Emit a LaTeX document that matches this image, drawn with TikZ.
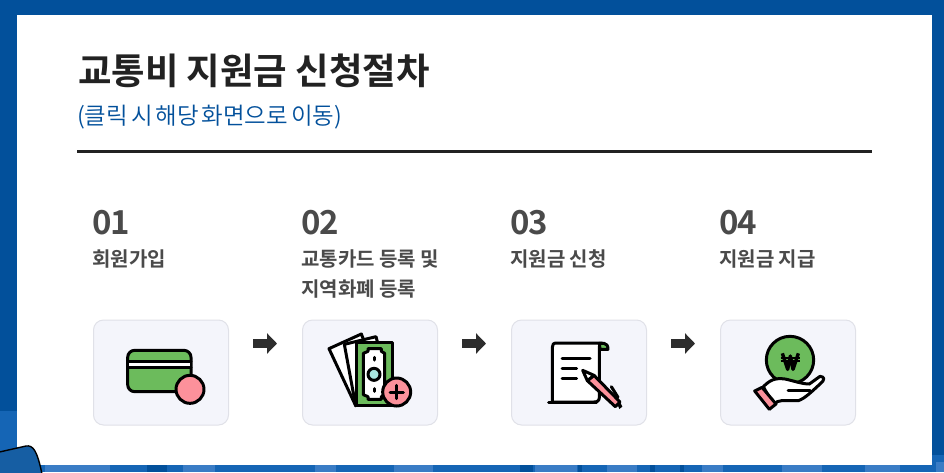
\documentclass[tikz,border=0pt]{standalone}
\usepackage{fontspec}
\setmainfont{Noto Sans CJK KR}
\newfontfamily\krmed[WordSpace=0.7]{Noto Sans CJK KR Bold}
\newfontfamily\krnum[LetterSpace=-3]{Noto Sans CJK KR Bold}
\newfontfamily\krbold{Noto Sans CJK KR Bold}
\newfontfamily\krlight[WordSpace=0.55]{Noto Sans CJK KR DemiLight}
\usetikzlibrary{arrows.meta}
\definecolor{bgdark}{HTML}{02509B}
\definecolor{bgmid}{HTML}{1565B5}
\definecolor{bglight}{HTML}{3A7CC5}
\definecolor{ink}{HTML}{222222}
\definecolor{steptext}{HTML}{4A4A4A}
\definecolor{boxfill}{HTML}{F4F5FB}
\definecolor{boxline}{HTML}{E0E1E8}
\definecolor{icongreen}{HTML}{6CBB5C}
\definecolor{iconpink}{HTML}{FC919B}
\definecolor{iconaqua}{HTML}{A8E6E0}
\tikzset{
  x=1pt,y=-1pt,
  stepbox/.style={draw=boxline,fill=boxfill,line width=1pt,rounded corners=10pt,minimum width=135pt,minimum height=105pt,inner sep=0pt,anchor=north west},
  stepnum/.style={anchor=base west,inner sep=0pt,text=steptext,font=\krnum\fontsize{33}{33}\selectfont},
  steplabel/.style={anchor=base west,inner sep=0pt,text=steptext,font=\krmed\fontsize{20}{20}\selectfont},
  flowarrow/.style={draw=ink!95,line width=9.5pt,-{Triangle[length=10pt,width=20pt]}},
  icon/.style={draw=black,line width=3pt,line join=round,line cap=round},
  zoomed/.style={x=1/3*1pt,y=-1/3*1pt},
}
\begin{document}
\begin{tikzpicture}
\useasboundingbox (0,0) rectangle (944,472);
% background
\fill[bgdark] (0,0) rectangle (944,472);
\fill[bgmid] (0,411) rectangle (17,472);
\fill[bgmid] (0,465) rectangle (944,472);
\fill[bgmid] (932,455) rectangle (944,472);
\foreach \a/\b in {45/110,183/215,315/336,394/433,535/577,607/637,702/723,782/822,865/900}
  \fill[bglight] (\a,465) rectangle (\b,472);
\foreach \a/\b in {147/167,520/533,578/582,650/655,680/684}
  \fill[bgdark] (\a,465) rectangle (\b,472);
\fill[bglight] (936,462) rectangle (944,472);
% panel
\fill[white] (17,15) rectangle (932,465);
% corner shape over the panel
\draw[black,line width=1.4pt,fill=bgdark!92!white] (-5,453) -- (26,446) .. controls (33,445) and (37,450) .. (42,474) -- (-5,474) -- cycle;
% heading
\node[anchor=base west,inner sep=0pt,text=ink,font=\krbold\fontsize{36.4}{36.4}\selectfont] (title) at (78,84) {교통비 지원금 신청절차};
\node[anchor=base west,inner sep=0pt,text=bgdark,font=\krlight\fontsize{23.5}{23.5}\selectfont] (subtitle) at (77,124) {(클릭 시 해당 화면으로 이동)};
\coordinate (ruleL) at (77,151.5);
\coordinate (ruleR) at (872,151.5);
\draw[ink,line width=3pt] (ruleL) -- (ruleR);
% steps
\node[stepnum] (n1) at (92,234.5) {01};
\node[stepnum] (n2) at (301,234.5) {02};
\node[stepnum] (n3) at (510,234.5) {03};
\node[stepnum] (n4) at (719,234.5) {04};
\node[steplabel] (l1) at (92,266) {회원가입};
\node[steplabel] (l2a) at (301,266) {교통카드 등록 및};
\node[steplabel] (l2b) at (301,296) {지역화폐 등록};
\node[steplabel] (l3) at (510,266) {지원금 신청};
\node[steplabel] (l4) at (719,266) {지원금 지급};
\node[stepbox] (b1) at (93,319.5) {};
\node[stepbox] (b2) at (302,319.5) {};
\node[stepbox] (b3) at (511,319.5) {};
\node[stepbox] (b4) at (720,319.5) {};
% arrows
\coordinate (a1s) at (253,343.5); \coordinate (a1e) at (277,343.5);
\coordinate (a2s) at (462,343.5); \coordinate (a2e) at (486,343.5);
\coordinate (a3s) at (671,343.5); \coordinate (a3e) at (695,343.5);
\draw[flowarrow] (a1s) -- (a1e);
\draw[flowarrow] (a2s) -- (a2e);
\draw[flowarrow] (a3s) -- (a3e);
% icon 1: card
\begin{scope}[shift={(80,310)},zoomed]
  \draw[icon,fill=icongreen,rounded corners=7pt] (143,121) rectangle (333,245);
  \fill[white] (146,155) rectangle (330,170);
  \draw[icon] (143,153) -- (333,153) (143,172) -- (333,172);
  \draw[icon,fill=iconpink] (330,238) circle [radius=42];
\end{scope}
% icon 2: money
\begin{scope}[shift={(290,310)},zoomed]
  \draw[icon,fill=white] (117,116) -- (214,72) -- (260,190) -- (197,287) -- cycle;
  \draw[icon,fill=white] (163,103) -- (258,80) -- (290,200) -- (197,287) -- cycle;
  \draw[icon,fill=icongreen] (200,98) rectangle (308,287);
  \draw[icon,fill=white] (234,116) -- (274,116) -- (274,124) -- (284,130) -- (284,254) -- (274,260) -- (274,268) -- (234,268) -- (234,260) -- (220,254) -- (220,130) -- (234,124) -- cycle;
  \draw[icon,fill=iconaqua] (252,193) circle [radius=18];
  \draw[icon] (252,142) -- (252,150) (252,236) -- (252,244);
  \draw[icon,fill=iconpink] (320,246) circle [radius=42];
  \draw[icon] (320,226) -- (320,266) (300,246) -- (340,246);
\end{scope}
% icon 3: document and pen
\begin{scope}[shift={(500,310)},zoomed]
  \draw[icon,fill=white] (157,276) -- (157,112) .. controls (157,103) and (160,99) .. (170,99) -- (306,99) .. controls (298,100) and (298,106) .. (298,118) -- (298,262) .. controls (298,272) and (292,276) .. (282,276) -- cycle;
  \draw[icon] (146,276) -- (290,276);
  \draw[icon,fill=icongreen] (298,100) -- (312,100) .. controls (320,100) and (324,108) .. (324,118) -- (300,118) -- cycle;
  \draw[icon] (186,145) -- (270,145) (186,175) -- (230,175) (186,204) -- (230,204);
  \draw[icon,fill=iconpink] (262,212) -- (282,196) -- (360,276) -- (346,290) -- cycle;
  \draw[icon,fill=white] (248,181) -- (282,196) -- (262,212) -- cycle;
  \draw[icon] (334,230) -- (354,262);
  \fill[black] (352,282) -- (360,276) -- (367,290) -- (358,297) -- cycle;
\end{scope}
% icon 4: coin and hand
\begin{scope}[shift={(710,310)},zoomed]
  \draw[icon,fill=icongreen] (240,150) circle [radius=71];
  \draw[line width=3.4pt,black,line join=round] (217,130) -- (233,178) -- (241,138) -- (249,178) -- (265,130);
  \draw[line width=2.2pt,black] (212,144) -- (270,144) (212,154) -- (270,154);
  \draw[icon,fill=white] (160,230) .. controls (180,210) and (195,203) .. (225,207) .. controls (250,212) and (275,222) .. (298,222) -- (330,199) .. controls (345,200) and (345,210) .. (330,222) .. controls (305,245) and (285,265) .. (265,272) -- (215,272) .. controls (205,272) and (200,275) .. (190,285) -- cycle;
  \draw[icon] (234,241) -- (300,241);
  \draw[icon,fill=iconpink] (134,243) -- (156,232) -- (198,282) -- (178,298) -- cycle;
\end{scope}
\end{tikzpicture}
\end{document}
